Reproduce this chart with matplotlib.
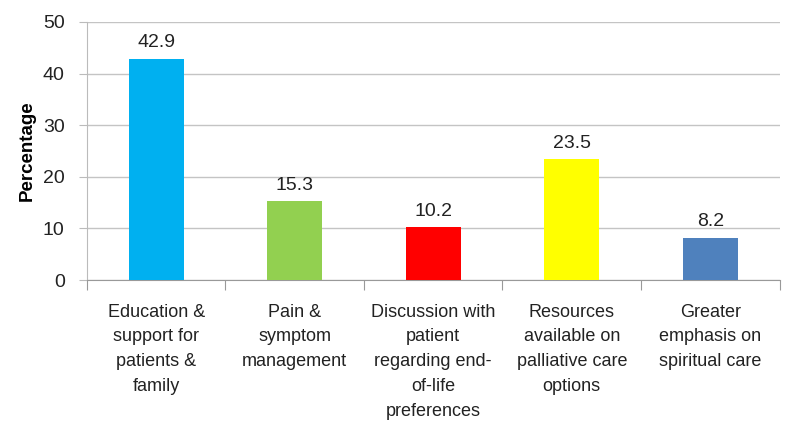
import matplotlib.pyplot as plt
import numpy as np

# Data
categories = ['Education &\nsupport for\npatients &\nfamily',
              'Pain &\nsymptom\nmanagement',
              'Discussion with\npatient\nregarding end-\nof-life\npreferences',
              'Resources\navailable on\npalliative care\noptions',
              'Greater\nemphasis on\nspiritual care']
values = [42.9, 15.3, 10.2, 23.5, 8.2]
colors = ['#00B0F0', '#92D050', '#FF0000', '#FFFF00', '#4F81BD']

plt.rcParams['font.family'] = ['Liberation Sans', 'DejaVu Sans']

fig = plt.figure(figsize=(7.87, 4.23), dpi=100)
ax = fig.add_axes([0.1105, 0.338, 0.88, 0.61])

x = np.arange(len(values))
ax.bar(x, values, width=0.4, color=colors, zorder=3)
for xi, v in zip(x, values):
    ax.text(xi, v + 1.4, f'{v}', ha='center', va='bottom', fontsize=14, color='#222222')

ax.set_xlim(-0.5, len(values) - 0.5)
ax.set_ylim(0, 50)
ax.set_yticks(range(0, 51, 10))
ax.tick_params(axis='y', labelsize=14, length=6, pad=10, color='#bbbbbb', labelcolor='#222222')
ax.yaxis.grid(True, color='#c4c4c4', linewidth=1, zorder=0)

# category ticks at boundaries, labels centred
ax.set_xticks(np.arange(-0.5, len(values), 1))
ax.set_xticklabels([])
ax.set_xticks(x, minor=True)
ax.set_xticklabels(categories, minor=True, fontsize=13, color='#222222', linespacing=1.6)
ax.tick_params(axis='x', which='major', length=7, color='#999999')
ax.tick_params(axis='x', which='minor', length=0, pad=17)

for s in ['top', 'right']:
    ax.spines[s].set_visible(False)
ax.spines['left'].set_color('#bbbbbb')
ax.spines['bottom'].set_color('#999999')

ax.set_ylabel('Percentage', fontsize=13.5, fontweight='bold', labelpad=5)

plt.savefig('out.png', dpi=100)
plt.close()
